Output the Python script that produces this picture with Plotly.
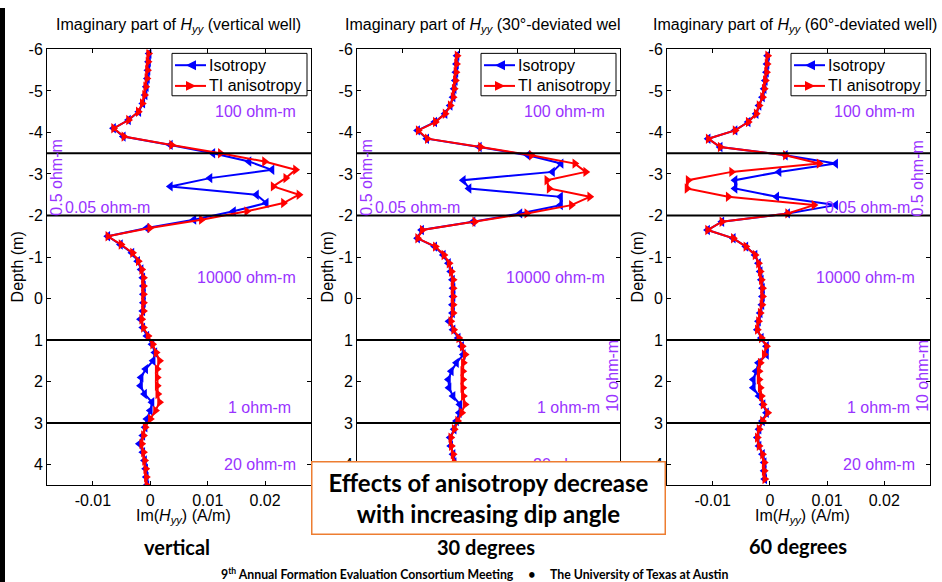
import plotly.graph_objects as go

# ---------------- data ----------------
depth_vert = [-5.9, -5.7, -5.5, -5.3, -5.1, -4.9, -4.7, -4.5, -4.3, -4.1, -3.9, -3.7, -3.5,
              -3.3, -3.1, -2.9, -2.7, -2.5, -2.3, -2.1, -1.9, -1.7, -1.5, -1.3, -1.1, -0.9,
              -0.7, -0.5, -0.3, -0.1, 0.1, 0.3, 0.5, 0.7, 0.9, 1.1, 1.3, 1.5, 1.7, 1.9, 2.1,
              2.3, 2.5, 2.7, 2.9, 3.1, 3.3, 3.5, 3.7, 3.9, 4.1, 4.3, 4.5]
iso_vert = [-0.0002, -0.0003, -0.0004, -0.0005, -0.0007, -0.0009, -0.0013, -0.0020, -0.0038,
            -0.0064, -0.0047, 0.0035, 0.0109, 0.0172, 0.0212, 0.0104, 0.0035, 0.0185, 0.0202,
            0.0145, 0.0076, -0.0006, -0.0074, -0.0052, -0.0032, -0.0022, -0.0016, -0.0013,
            -0.0012, -0.0012, -0.0012, -0.0013, -0.0017, -0.0013, -0.0006, 0.0003, 0.0008,
            0.0005, -0.0008, -0.0016, -0.0017, -0.0010, 0.0003, 0.0000, -0.0006, -0.0009,
            -0.0013, -0.0019, -0.0013, -0.0010, -0.0008, -0.0007, -0.0006]
ti_vert = [-0.0003, -0.0004, -0.0005, -0.0006, -0.0008, -0.0010, -0.0014, -0.0021, -0.0038,
           -0.0064, -0.0046, 0.0037, 0.0122, 0.0199, 0.0253, 0.0236, 0.0214, 0.0259, 0.0232,
           0.0168, 0.0089, -0.0001, -0.0074, -0.0051, -0.0031, -0.0021, -0.0015, -0.0012,
           -0.0012, -0.0012, -0.0012, -0.0012, -0.0015, -0.0012, -0.0004, 0.0004, 0.0010,
           0.0016, 0.0012, 0.0012, 0.0012, 0.0013, 0.0016, 0.0009, 0.0000, -0.0009,
           -0.0012, -0.0015, -0.0012, -0.0010, -0.0008, -0.0007, -0.0006]

depth_dev = [-5.85, -5.65, -5.45, -5.25, -5.05, -4.85, -4.65, -4.45, -4.25, -4.05, -3.85, -3.65,
             -3.45, -3.25, -3.05, -2.85, -2.65, -2.45, -2.25, -2.05, -1.85, -1.65, -1.45, -1.25,
             -1.05, -0.85, -0.65, -0.45, -0.25, -0.05, 0.15, 0.35, 0.55, 0.75, 0.95, 1.15, 1.35,
             1.55, 1.75, 1.95, 2.15, 2.35, 2.55, 2.75, 2.95, 3.15, 3.35, 3.55, 3.75, 3.95, 4.15,
             4.35]
iso_30 = [-0.0005, -0.0006, -0.0007, -0.0008, -0.0010, -0.0012, -0.0017, -0.0026, -0.0044,
          -0.0074, -0.0058, 0.0034, 0.0119, 0.0177, 0.0162, 0.0006, 0.0016, 0.0176, 0.0176,
          0.0105, 0.0023, -0.0067, -0.0074, -0.0044, -0.0029, -0.0020, -0.0016, -0.0013,
          -0.0012, -0.0012, -0.0013, -0.0013, -0.0019, -0.0012, -0.0003, 0.0003, 0.0006,
          -0.0006, -0.0015, -0.0020, -0.0019, -0.0012, 0.0000, -0.0001, -0.0006, -0.0010,
          -0.0017, -0.0016, -0.0012, -0.0010, -0.0009, -0.0008]
ti_30 = [-0.0005, -0.0006, -0.0007, -0.0008, -0.0010, -0.0012, -0.0017, -0.0026, -0.0043,
         -0.0073, -0.0057, 0.0036, 0.0125, 0.0201, 0.0220, 0.0152, 0.0156, 0.0227, 0.0195,
         0.0117, 0.0026, -0.0066, -0.0074, -0.0043, -0.0028, -0.0019, -0.0015, -0.0012,
         -0.0012, -0.0012, -0.0012, -0.0012, -0.0016, -0.0011, -0.0002, 0.0004, 0.0009,
         0.0006, 0.0005, 0.0005, 0.0005, 0.0006, 0.0009, 0.0003, -0.0004, -0.0010,
         -0.0016, -0.0015, -0.0012, -0.0010, -0.0009, -0.0008]
iso_60 = [-0.0004, -0.0005, -0.0006, -0.0008, -0.0010, -0.0013, -0.0019, -0.0024, -0.0038,
          -0.0061, -0.0108, -0.0087, 0.0027, 0.0115, 0.0016, -0.0061, -0.0061, 0.0012, 0.0115,
          0.0031, -0.0084, -0.0109, -0.0064, -0.0042, -0.0026, -0.0020, -0.0017, -0.0015,
          -0.0013, -0.0013, -0.0014, -0.0017, -0.0020, -0.0022, -0.0015, -0.0006, -0.0006,
          -0.0020, -0.0024, -0.0029, -0.0029, -0.0019, -0.0012, -0.0006, -0.0013, -0.0019,
          -0.0022, -0.0019, -0.0013, -0.0010, -0.0010, -0.0009]
ti_60 = [-0.0004, -0.0005, -0.0006, -0.0008, -0.0010, -0.0013, -0.0019, -0.0024, -0.0038,
         -0.0061, -0.0108, -0.0087, 0.0027, 0.0086, -0.0067, -0.0143, -0.0145, -0.0073, 0.0077,
         0.0031, -0.0084, -0.0109, -0.0064, -0.0042, -0.0026, -0.0020, -0.0017, -0.0015,
         -0.0013, -0.0013, -0.0014, -0.0017, -0.0020, -0.0022, -0.0015, -0.0006, -0.0010,
         -0.0017, -0.0019, -0.0019, -0.0017, -0.0015, -0.0012, -0.0004, -0.0013, -0.0019,
         -0.0022, -0.0019, -0.0013, -0.0010, -0.0010, -0.0009]

boundaries = [-3.5, -2, 1, 3]
x_ticks = [-0.01, 0, 0.01, 0.02]
x_tick_labels = ["-0.01", "0", "0.01", "0.02"]
y_ticks = [-6, -5, -4, -3, -2, -1, 0, 1, 2, 3, 4]
y_tick_labels = ["-6", "-5", "-4", "-3", "-2", "-1", "0", "1", "2", "3", "4"]
series_names = ["Isotropy", "TI anisotropy"]

titles = ["Imaginary part of <i>H</i><sub><i>yy</i></sub> (vertical well)",
          "Imaginary part of <i>H</i><sub><i>yy</i></sub> (30°-deviated wel",
          "Imaginary part of <i>H</i><sub><i>yy</i></sub> (60°-deviated well)"]
captions = ["vertical", "30 degrees", "60 degrees"]

# ---------------- layout helpers ----------------
W, H = 942, 582
def px(x):
    return x / W
def py(y):
    return 1 - y / H

panels = [(47, 311), (357, 620), (667, 930)]
top, bottom = 42, 484
ARIAL = "Liberation Sans, Arial, sans-serif"
CAL = "Lato, Carlito, Calibri, sans-serif"
PURPLE = "#9933FF"
BLUE, RED = "#0000FF", "#FF0000"
FS = 16

fig = go.Figure()
series = [(depth_vert, iso_vert, ti_vert), (depth_dev, iso_30, ti_30), (depth_dev, iso_60, ti_60)]

for i, (d, iso, ti) in enumerate(series):
    xa = "x" if i == 0 else f"x{i+1}"
    ya = "y" if i == 0 else f"y{i+1}"
    fig.add_trace(go.Scatter(x=iso, y=d, mode="lines+markers", name=series_names[0],
                             line=dict(color=BLUE, width=2),
                             marker=dict(symbol="triangle-left", size=9, color=BLUE),
                             xaxis=xa, yaxis=ya, showlegend=False))
    fig.add_trace(go.Scatter(x=ti, y=d, mode="lines+markers", name=series_names[1],
                             line=dict(color=RED, width=2),
                             marker=dict(symbol="triangle-right", size=9, color=RED),
                             xaxis=xa, yaxis=ya, showlegend=False))

layout = dict(width=W, height=H, margin=dict(l=0, r=0, t=0, b=0),
              paper_bgcolor="white", plot_bgcolor="white", showlegend=False)

for i, (l, r) in enumerate(panels):
    xk = "xaxis" if i == 0 else f"xaxis{i+1}"
    yk = "yaxis" if i == 0 else f"yaxis{i+1}"
    ya = "y" if i == 0 else f"y{i+1}"
    xa = "x" if i == 0 else f"x{i+1}"
    layout[xk] = dict(domain=[px(l), px(r)], range=[-0.018, 0.028], anchor=ya,
                      tickvals=x_ticks, ticktext=x_tick_labels, showgrid=False, zeroline=False,
                      showline=True, linecolor="black", linewidth=1, mirror="ticks",
                      ticks="inside", ticklen=4, tickcolor="black",
                      tickfont=dict(family=ARIAL, size=FS, color="black"))
    layout[yk] = dict(domain=[py(bottom), py(top)], range=[4.5, -6], anchor=xa,
                      tickvals=y_ticks, ticktext=y_tick_labels, showgrid=False, zeroline=False,
                      showline=True, linecolor="black", linewidth=1, mirror="ticks",
                      ticks="inside", ticklen=4, tickcolor="black",
                      tickfont=dict(family=ARIAL, size=FS, color="black"))

fig.update_layout(**layout)

shapes = []
for i, (l, r) in enumerate(panels):
    xa = "x" if i == 0 else f"x{i+1}"
    ya = "y" if i == 0 else f"y{i+1}"
    for b in boundaries:
        shapes.append(dict(type="line", xref=f"{xa} domain", yref=ya, x0=0, x1=1, y0=b, y1=b,
                           line=dict(color="black", width=2)))
shapes.append(dict(type="rect", xref="paper", yref="paper", x0=0, x1=px(5), y0=0, y1=1,
                   fillcolor="black", line=dict(width=0)))

ann = []
def text(x, y, t, size=FS, color="black", family=ARIAL, angle=0, xanchor="center"):
    ann.append(dict(x=px(x), y=py(y), xref="paper", yref="paper", text=t, showarrow=False,
                    font=dict(family=family, size=size, color=color), textangle=angle,
                    xanchor=xanchor, yanchor="middle"))

# legends (one per panel), MATLAB style
def tri_path(cx, cy, left):
    s = 5
    if left:
        pts = [(cx - s, cy), (cx + s, cy - s), (cx + s, cy + s)]
    else:
        pts = [(cx + s, cy), (cx - s, cy - s), (cx - s, cy + s)]
    return "M " + " L ".join(f"{px(a)},{py(b)}" for a, b in pts) + " Z"

for i, (l, r) in enumerate(panels):
    x0, x1 = r - 139, r - 4
    y0, y1 = 46, 89
    shapes.append(dict(type="rect", xref="paper", yref="paper", x0=px(x0), x1=px(x1),
                       y0=py(y1), y1=py(y0), fillcolor="white",
                       line=dict(color="black", width=1)))
    for k, (name, col) in enumerate(zip(series_names, [BLUE, RED])):
        yy = 58 + 21 * k
        shapes.append(dict(type="line", xref="paper", yref="paper", x0=px(x0 + 3),
                           x1=px(x0 + 34), y0=py(yy), y1=py(yy), line=dict(color=col, width=2)))
        shapes.append(dict(type="path", xref="paper", yref="paper",
                           path=tri_path(x0 + 19, yy, k == 0), fillcolor=col,
                           line=dict(color=col, width=0)))
        text(x0 + 35, yy, name, size=FS, xanchor="left")

fig.update_layout(shapes=shapes)

# titles
text(178, 18, titles[0])
text(343, 18, titles[1], xanchor="left")
text(795, 18, titles[2])

# axis labels
for i, (l, r) in enumerate(panels):
    text(l - 30, 263, "Depth (m)", size=FS, angle=-90)
    if i != 1:
        text((l + r) / 2 + 4, 516, "Im(<i>H</i><sub><i>yy</i></sub>) (A/m)", size=FS)

# layer labels (purple)
for i, (l, r) in enumerate(panels):
    text(r - 13, 105, "100 ohm-m", color=PURPLE, xanchor="right")
    text(r - 13, 273, "10000 ohm-m", color=PURPLE, xanchor="right")
    text(r - 18, 405, "1 ohm-m", color=PURPLE, xanchor="right")
    if i < 2:
        text(l + 16, 202, "0.05 ohm-m", color=PURPLE, xanchor="left")
        text(l + 10, 172, "0.5 ohm-m", color=PURPLE, angle=-90)
    else:
        text(r - 18, 202, "0.05 ohm-m", color=PURPLE, xanchor="right")
        text(r - 12, 173, "0.5 ohm-m", color=PURPLE, angle=-90)
    if i >= 1:
        text(r - 7, 373, "10 ohm-m", color=PURPLE, angle=-90)
    text(r - 13, 463, "20 ohm-m", color=PURPLE, xanchor="right")

# captions
text(177, 547, "<b>vertical</b>", size=20, family=CAL)
text(486, 547, "<b>30 degrees</b>", size=20, family=CAL)
text(798, 545, "<b>60 degrees</b>", size=20, family=CAL)

# boxed conclusion
ann.append(dict(x=px(488.5), y=py(497), xref="paper", yref="paper", showarrow=False,
                text="<b>Effects of anisotropy decrease<br>with increasing dip angle</b>",
                font=dict(family=CAL, size=24, color="black"), bgcolor="white",
                bordercolor="#ED7D31", borderwidth=1.5, borderpad=0, width=352, height=71,
                xanchor="center", yanchor="middle", align="center"))

# footer
text(474, 574, "<b>9<sup>th</sup> Annual Formation Evaluation Consortium Meeting     •     The University of Texas at Austin</b>",
     size=12.3, family=CAL)

fig.update_layout(annotations=ann)
fig.write_html(
    "out.html", config={"displayModeBar": False},
    post_script=("document.documentElement.style.margin='0';"
                 "document.body.style.margin='0';document.body.style.overflow='hidden';"
                 "var gd=document.getElementById('{plot_id}');"
                 "gd.style.position='fixed';gd.style.top='0px';gd.style.left='0px';"))
